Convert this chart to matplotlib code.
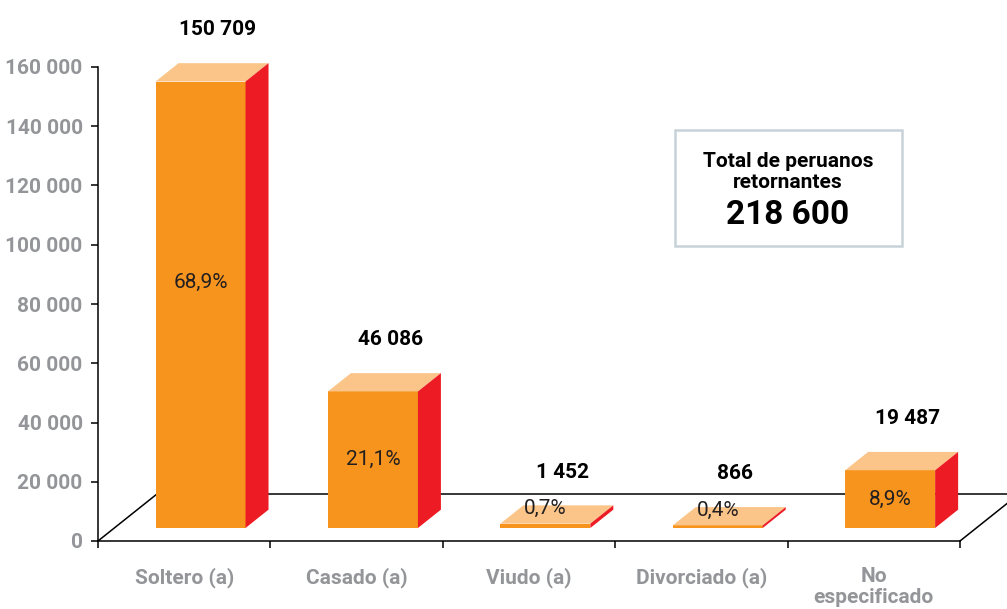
import matplotlib.pyplot as plt
from matplotlib.patches import Polygon, Rectangle

categories = ["Soltero (a)", "Casado (a)", "Viudo (a)", "Divorciado (a)", "No\nespecificado"]
values = [150709, 46086, 1452, 866, 19487]
value_labels = ["150 709", "46 086", "1 452", "866", "19 487"]
pct_labels = ["68,9%", "21,1%", "0,7%", "0,4%", "8,9%"]
yticks = [0, 20000, 40000, 60000, 80000, 100000, 120000, 140000, 160000]
ytick_labels = ["0", "20 000", "40 000", "60 000", "80 000", "100 000", "120 000", "140 000", "160 000"]
total_label = "Total de peruanos\nretornantes"
total_value = "218 600"

ORANGE = "#F7941D"
RED = "#ED1C24"
TOP = "#FBC589"
GRAY = "#939598"

plt.rcParams['font.family'] = ['Roboto', 'DejaVu Sans']

fig = plt.figure(figsize=(10.07, 6.09), dpi=100)
ax = fig.add_axes([98 / 1007, 68 / 609, 862 / 1007, 474 / 609])
ax.set_xlim(0, 5)
ax.set_ylim(0, 160000)

# oblique depth: full floor depth in data units
DX = 0.342
DY = 15865
zf = 0.277     # bar front depth
dz = 0.39      # bar depth
bw = 0.522     # bar width

def P(x, y, z):
    return (x + z * DX, y + z * DY)

# floor
floor_kw = dict(color="black", lw=1.1, clip_on=False, zorder=1)
ax.plot(*zip(P(0, 0, 0), P(0, 0, 1)), **floor_kw)
ax.plot(*zip(P(0, 0, 1), P(5.4, 0, 1)), **floor_kw)
ax.plot(*zip(P(5, 0, 0), P(5, 0, 1)), **floor_kw)

base = zf * DY
for i, v in enumerate(values):
    cx = i + 0.5 + zf * DX
    ax.bar(cx, v, bottom=base, width=bw, color=ORANGE, zorder=3, clip_on=False)
    x0, x1 = cx - bw / 2, cx + bw / 2
    top = [(x0, base + v), (x1, base + v),
           (x1 + dz * DX, base + v + dz * DY), (x0 + dz * DX, base + v + dz * DY)]
    side = [(x1, base), (x1, base + v),
            (x1 + dz * DX, base + v + dz * DY), (x1 + dz * DX, base + dz * DY)]
    ax.add_patch(Polygon(top, closed=True, fc=TOP, ec="none", zorder=3, clip_on=False))
    ax.add_patch(Polygon(side, closed=True, fc=RED, ec="none", zorder=3, clip_on=False))

    back_top = base + v + dz * DY
    ax.annotate(value_labels[i], (cx + 0.1, back_top), xytext=(0, 24),
                textcoords="offset points", ha="center", va="center",
                fontsize=15, fontweight="bold", color="black", zorder=5,
                annotation_clip=False)
    if v > 10000:
        py = base + v * (0.55 if v > 100000 else 0.5)
    else:
        py = back_top - 1000
    ax.text(cx, py, pct_labels[i], ha="center", va="center", fontsize=15,
            color="#231F20", zorder=5)

# axes styling
for s in ["top", "right"]:
    ax.spines[s].set_visible(False)
ax.spines["left"].set_linewidth(1.1)
ax.spines["bottom"].set_linewidth(1.1)
ax.set_yticks(yticks)
ax.set_yticklabels(ytick_labels, fontsize=15, fontweight="bold", color=GRAY)
ax.tick_params(axis="y", length=5, width=1.1, pad=6)
ax.set_xticks(range(6))
ax.set_xticklabels([])
ax.tick_params(axis="x", which="major", length=5, width=1.1, direction="out")
ax.set_xticks([i + 0.5 for i in range(5)], minor=True)
ax.set_xticklabels(categories, minor=True, fontsize=15, fontweight="bold",
                   color=GRAY, linespacing=1.1)
ax.tick_params(axis="x", which="minor", length=0, pad=19)

# total box
fig.patches.append(Rectangle((675 / 1007, (609 - 246) / 609), 227 / 1007, 116 / 609,
                             transform=fig.transFigure, fill=False,
                             ec="#C8D2D9", lw=1.8))
fig.text(788 / 1007, 1 - 172 / 609, total_label, ha="center", va="center",
         fontsize=15, fontweight="bold", linespacing=1.1)
fig.text(788 / 1007, 1 - 215 / 609, total_value, ha="center", va="center",
         fontsize=24, fontweight="bold")

fig.savefig("out.png", dpi=100)
